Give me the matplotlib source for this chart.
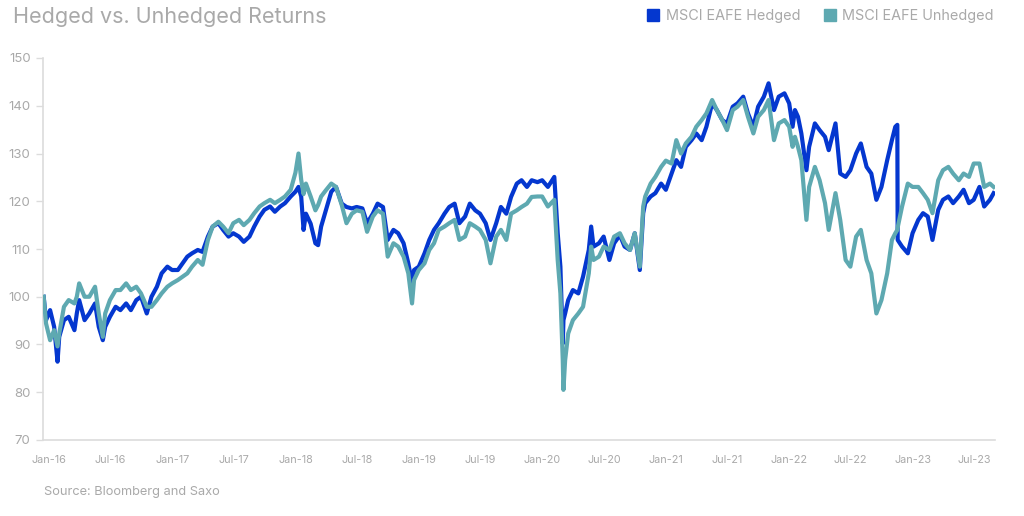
import matplotlib
matplotlib.use("Agg")
import matplotlib.pyplot as plt
import matplotlib.transforms as mtransforms
from matplotlib.lines import Line2D
import pandas as pd

plt.rcParams['font.family'] = ['Inter', 'DejaVu Sans']

dates = [
    "2016-01-01", "2016-01-08", "2016-01-20", "2016-02-01", "2016-02-11", "2016-02-16",
    "2016-03-01", "2016-03-15", "2016-04-01", "2016-04-08", "2016-04-15", "2016-05-01",
    "2016-05-15", "2016-06-01", "2016-06-12", "2016-06-24", "2016-07-01", "2016-07-15",
    "2016-08-01", "2016-08-15", "2016-09-01", "2016-09-15", "2016-10-01", "2016-10-15",
    "2016-11-01", "2016-11-15", "2016-12-01", "2016-12-15",
    "2017-01-01", "2017-01-15", "2017-02-01", "2017-02-15", "2017-03-01", "2017-03-15",
    "2017-04-01", "2017-04-15", "2017-05-01", "2017-05-15", "2017-06-01", "2017-06-15",
    "2017-07-01", "2017-07-15", "2017-08-01", "2017-08-15", "2017-09-01", "2017-09-15",
    "2017-10-01", "2017-10-15", "2017-11-01", "2017-11-15", "2017-12-01", "2017-12-15",
    "2018-01-01", "2018-01-15", "2018-01-24", "2018-02-01", "2018-02-08", "2018-02-15",
    "2018-03-01", "2018-03-15", "2018-03-23", "2018-04-01", "2018-04-15", "2018-05-01",
    "2018-05-15", "2018-06-01", "2018-06-15", "2018-07-01", "2018-07-15", "2018-08-01",
    "2018-08-15", "2018-09-01", "2018-09-15", "2018-10-01", "2018-10-15", "2018-11-01",
    "2018-11-15", "2018-12-01", "2018-12-15", "2018-12-26",
    "2019-01-01", "2019-01-15", "2019-02-01", "2019-02-15", "2019-03-01", "2019-03-15",
    "2019-04-01", "2019-04-15", "2019-05-01", "2019-05-15", "2019-06-01", "2019-06-15",
    "2019-07-01", "2019-07-15", "2019-08-01", "2019-08-15", "2019-09-01", "2019-09-15",
    "2019-10-01", "2019-10-15", "2019-11-01", "2019-11-15", "2019-12-01", "2019-12-15",
    "2020-01-01", "2020-01-15", "2020-02-01", "2020-02-20", "2020-03-01", "2020-03-09",
    "2020-03-16", "2020-03-18", "2020-03-23", "2020-04-01", "2020-04-15", "2020-05-01",
    "2020-05-15", "2020-06-01", "2020-06-08", "2020-06-15", "2020-07-01", "2020-07-15",
    "2020-08-01", "2020-08-15", "2020-09-01", "2020-09-15", "2020-10-01", "2020-10-15",
    "2020-10-30", "2020-11-09", "2020-11-15", "2020-12-01", "2020-12-15",
    "2021-01-01", "2021-01-15", "2021-02-01", "2021-02-15", "2021-03-01", "2021-03-15",
    "2021-04-01", "2021-04-15", "2021-05-01", "2021-05-15", "2021-06-01", "2021-06-15",
    "2021-07-01", "2021-07-15", "2021-08-01", "2021-08-15", "2021-09-01", "2021-09-15",
    "2021-10-01", "2021-10-15", "2021-11-01", "2021-11-15", "2021-12-01", "2021-12-15",
    "2022-01-01", "2022-01-15", "2022-01-25", "2022-02-01", "2022-02-10", "2022-02-20",
    "2022-03-07", "2022-03-15", "2022-04-01", "2022-04-15", "2022-05-01", "2022-05-12",
    "2022-06-01", "2022-06-15", "2022-07-01", "2022-07-15", "2022-08-01", "2022-08-15",
    "2022-09-01", "2022-09-15", "2022-09-30", "2022-10-15", "2022-11-01", "2022-11-15",
    "2022-11-25", "2022-12-01", "2022-12-02", "2022-12-15",
    "2023-01-01", "2023-01-15", "2023-02-01", "2023-02-15", "2023-03-01", "2023-03-15",
    "2023-04-01", "2023-04-15", "2023-05-01", "2023-05-15", "2023-06-01", "2023-06-15",
    "2023-07-01", "2023-07-15", "2023-08-01", "2023-08-15", "2023-09-01", "2023-09-12",
]

hedged = [
    100.0, 95.1, 97.2, 93.7, 86.4, 91.6,
    95.1, 95.8, 93.0, 96.5, 99.3, 95.1,
    96.5, 98.6, 93.7, 90.9, 93.7, 95.8,
    97.9, 97.2, 98.6, 97.2, 99.3, 100.0,
    96.5, 100.0, 102.1, 104.9,
    106.3, 105.6, 105.6, 107.0, 108.4, 109.1,
    109.8, 109.4, 112.6, 114.7, 115.4, 114.0,
    112.6, 113.3, 112.6, 111.5, 112.6, 114.7,
    116.8, 118.2, 118.9, 117.8, 118.9, 119.6,
    121.0, 122.0, 123.0, 121.0, 114.0, 117.4,
    115.3, 111.2, 110.8, 114.7, 118.1, 122.0,
    123.0, 119.5, 118.8, 118.5, 118.8, 118.5,
    115.4, 117.4, 119.5, 118.8, 111.9, 114.0,
    113.3, 111.2, 107.0, 102.8,
    105.6, 106.3, 109.1, 111.9, 114.0, 115.4,
    117.4, 118.8, 119.5, 115.4, 116.8, 119.5,
    118.1, 117.4, 115.4, 111.9, 115.4, 118.8,
    117.4, 120.9, 123.7, 124.4, 123.0, 124.4,
    124.0, 124.4, 123.0, 125.1, 113.3, 106.3,
    90.2, 95.1, 96.5, 99.3, 101.4, 100.7,
    104.2, 109.8, 114.7, 110.5, 111.2, 112.6,
    107.7, 111.2, 112.9, 110.5, 109.8, 113.3,
    105.6, 117.5, 119.6, 121.0, 121.7,
    123.7, 122.4, 125.8, 128.6, 127.2, 131.4,
    132.8, 134.2, 132.8, 135.6, 140.5, 139.1,
    137.0, 136.3, 139.8, 140.5, 141.9, 138.4,
    135.6, 139.8, 141.9, 144.7, 139.1, 141.9,
    142.6, 140.5, 135.6, 139.1, 137.7, 134.2,
    126.5, 131.4, 136.3, 134.9, 133.5, 130.7,
    136.3, 125.8, 125.1, 126.5, 130.0, 132.1,
    127.2, 125.8, 120.3, 123.0, 128.6, 132.8,
    135.6, 136.0, 111.9, 110.5,
    109.1, 113.3, 116.1, 117.5, 116.8, 111.9,
    118.2, 120.3, 121.0, 119.6, 121.0, 122.4,
    119.6, 120.3, 123.0, 118.9, 120.3, 121.7,
]

unhedged = [
    100.0, 94.4, 90.9, 93.0, 89.6, 92.3,
    97.9, 99.3, 98.6, 100.0, 102.8, 100.0,
    100.0, 102.1, 96.5, 91.6, 96.5, 99.3,
    101.4, 101.4, 102.8, 101.4, 102.1, 100.7,
    97.9, 97.9, 99.3, 100.7,
    102.1, 102.8, 103.5, 104.2, 104.9, 106.3,
    107.7, 106.7, 111.9, 114.7, 115.7, 114.7,
    113.3, 115.4, 116.1, 115.0, 116.1, 117.5,
    118.9, 119.6, 120.3, 119.6, 120.3, 121.0,
    122.4, 126.0, 130.0, 124.5, 121.5, 123.7,
    121.0, 118.1, 119.2, 121.0, 122.3, 123.7,
    123.0, 119.2, 115.4, 117.4, 118.1, 117.8,
    113.6, 116.8, 118.1, 117.4, 108.4, 111.2,
    110.5, 108.4, 104.9, 98.6,
    103.5, 105.6, 107.0, 109.8, 111.2, 114.0,
    114.7, 115.4, 116.1, 111.9, 112.6, 115.4,
    114.7, 114.0, 111.9, 107.0, 112.6, 114.0,
    111.9, 117.4, 118.1, 118.8, 119.5, 120.9,
    121.0, 121.0, 118.9, 120.3, 107.7, 100.7,
    86.7, 80.5, 86.7, 92.3, 95.1, 96.5,
    97.9, 104.9, 110.5, 107.7, 108.4, 110.5,
    109.8, 112.6, 113.3, 111.2, 109.8, 113.3,
    106.3, 118.9, 121.0, 123.7, 125.1,
    127.2, 128.5, 127.9, 132.8, 130.0, 132.1,
    133.5, 135.6, 137.0, 138.4, 141.2, 139.1,
    137.0, 134.9, 139.1, 139.8, 141.2, 137.7,
    134.2, 137.7, 139.1, 141.2, 132.8, 136.3,
    137.0, 135.6, 131.4, 133.5, 131.4, 128.6,
    116.1, 123.0, 127.2, 124.4, 119.6, 114.0,
    121.7, 116.1, 107.7, 106.3, 112.6, 114.0,
    107.7, 104.9, 96.5, 99.3, 104.9, 111.9,
    113.3, 114.0, 114.5, 118.9,
    123.7, 123.0, 123.0, 121.7, 120.3, 117.5,
    124.4, 126.5, 127.2, 125.8, 124.4, 125.8,
    125.1, 127.9, 127.9, 123.0, 123.7, 123.0,
]

tick_dates = ["2016-01-01", "2016-07-01", "2017-01-01", "2017-07-01", "2018-01-01",
              "2018-07-01", "2019-01-01", "2019-07-01", "2020-01-01", "2020-07-01",
              "2021-01-01", "2021-07-01", "2022-01-01", "2022-07-01", "2023-01-01",
              "2023-07-01"]
tick_labels = ["Jan-16", "Jul-16", "Jan-17", "Jul-17", "Jan-18", "Jul-18", "Jan-19",
               "Jul-19", "Jan-20", "Jul-20", "Jan-21", "Jul-21", "Jan-22", "Jul-22",
               "Jan-23", "Jul-23"]
y_ticks = [70, 80, 90, 100, 110, 120, 130, 140, 150]

series_names = ["MSCI EAFE Hedged", "MSCI EAFE Unhedged"]
HEDGED_COLOR = "#0437cf"
UNHEDGED_COLOR = "#5ea9b1"
GREY = "#a9a9a9"

x = pd.to_datetime(dates)

fig = plt.figure(figsize=(10.24, 5.16), dpi=100)
ax = fig.add_axes([43 / 1024, 1 - 440 / 516, (995 - 43) / 1024, (440 - 58) / 516])

ax.plot(x, hedged, color=HEDGED_COLOR, lw=3.0, solid_joinstyle="round", zorder=2)
ax.plot(x, unhedged, color=UNHEDGED_COLOR, lw=3.0, solid_joinstyle="round", zorder=3)

ax.set_ylim(70, 150)
ax.set_yticks(y_ticks)
ax.set_xlim(pd.Timestamp("2015-12-30"), pd.Timestamp("2023-09-16"))
ax.set_xticks(pd.to_datetime(tick_dates))
ax.set_xticklabels(tick_labels)

for s in ["top", "right"]:
    ax.spines[s].set_visible(False)
for s in ["left", "bottom"]:
    ax.spines[s].set_color("#dcdcdc")
    ax.spines[s].set_linewidth(1.2)

ax.tick_params(axis="y", colors="#dcdcdc", labelcolor=GREY, labelsize=9.5,
               length=5, width=1, pad=4)
ax.tick_params(axis="x", length=0, labelcolor=GREY, labelsize=7.8, pad=11)

offset = mtransforms.ScaledTranslation(5 / 100, 0, fig.dpi_scale_trans)
for lab in ax.get_xticklabels():
    lab.set_transform(lab.get_transform() + offset)

fig.text(13 / 1024, 1 - 17 / 516, "Hedged vs. Unhedged Returns", color=GREY,
         fontsize=15.5, va="center", ha="left")
fig.text(44 / 1024, 1 - 492 / 516, "Source: Bloomberg and Saxo", color=GREY,
         fontsize=9.2, va="center", ha="left")

handles = [Line2D([], [], ls="none", marker="s", markersize=8.5, color=HEDGED_COLOR),
           Line2D([], [], ls="none", marker="s", markersize=8.5, color=UNHEDGED_COLOR)]
leg = fig.legend(handles, series_names, loc="center right",
                 bbox_to_anchor=(994 / 1024, 1 - 16 / 516), ncol=2, frameon=False,
                 fontsize=10.4, handlelength=0.8, handletextpad=0.5, columnspacing=1.6,
                 borderpad=0, borderaxespad=0)
for t in leg.get_texts():
    t.set_color(GREY)

fig.savefig("out.png", dpi=100, facecolor="white")
